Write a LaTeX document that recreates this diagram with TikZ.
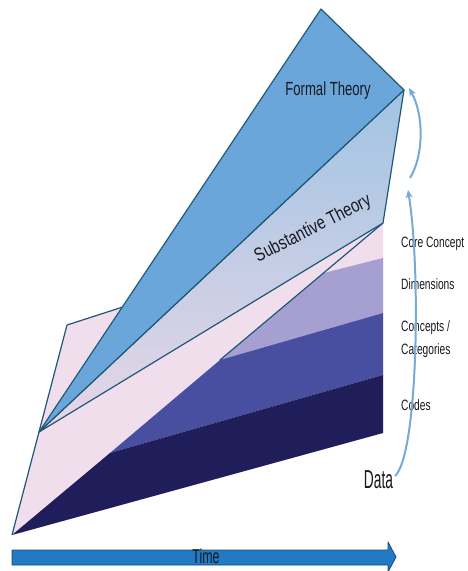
\documentclass[tikz,border=0pt]{standalone}
\usepackage{fontspec}
\usepackage{graphicx}
\setmainfont{Liberation Sans}
\usetikzlibrary{arrows.meta}
\definecolor{pinkc}{RGB}{240,222,236}
\definecolor{lavc}{RGB}{166,160,210}
\definecolor{medc}{RGB}{72,78,160}
\definecolor{navyc}{RGB}{32,30,90}
\definecolor{formc}{RGB}{106,166,218}
\definecolor{subtop}{RGB}{160,196,228}
\definecolor{subbot}{RGB}{232,214,230}
\definecolor{linec}{RGB}{30,88,118}
\definecolor{txtc}{RGB}{25,25,30}
\definecolor{arrc}{RGB}{118,170,216}
\definecolor{timec}{RGB}{34,122,196}
\definecolor{timeedge}{RGB}{20,72,130}
\begin{document}
\begin{tikzpicture}[x=1pt,y=-1pt,
  edge/.style={draw=linec, line width=1.2pt, line join=round},
  lbl/.style={anchor=west, inner sep=0pt, text=txtc, font=\fontsize{15}{18}\selectfont},
  upcurve/.style={draw=arrc, line width=2pt, -{Stealth[length=8pt,width=7pt]}}]
\useasboundingbox (0,0) rectangle (467,571);
\fill[white] (0,0) rectangle (467,571);
% key points
\coordinate (O) at (12,535);
\coordinate (A) at (67,325);
\coordinate (S) at (383,223);
\coordinate (P) at (39,432);
\coordinate (T) at (321,9);
\coordinate (R) at (404,90);
\coordinate (Q1) at (110,453);
\coordinate (Q2) at (220,360);
\coordinate (Q3) at (324,273);
\coordinate (C1) at (383,258);
\coordinate (C2) at (383,313);
\coordinate (C3) at (383,375);
\coordinate (C4) at (383,433);
% pink plane (core concept)
\fill[pinkc] (O) -- (A) -- (S) -- (C1) -- (C4) -- cycle;
% layers
\fill[lavc] (Q2) -- (Q3) -- (C1) -- (C2) -- cycle;
\fill[medc] (Q1) -- (Q2) -- (C2) -- (C3) -- cycle;
\fill[navyc] (O) -- (Q1) -- (C3) -- (C4) -- cycle;
% pink plane outline
\draw[edge] (O) -- (A) -- (S);
\draw[edge] (Q2) -- (S);
% substantive theory
\shade[top color=subtop, bottom color=subbot] (P) -- (R) -- (S) -- cycle;
\draw[edge] (P) -- (R) -- (S) -- cycle;
% formal theory
\fill[formc] (P) -- (T) -- (R) -- cycle;
\draw[edge] (P) -- (T) -- (R) -- cycle;
% texts in the planes
\node[text=txtc, inner sep=0pt] (formal) at (328,91)
  {\fontsize{19}{22}\selectfont\scalebox{0.69}[1]{Formal Theory}};
\node[text=txtc, inner sep=0pt, rotate=26.8] (subst) at (313,229)
  {\fontsize{19}{22}\selectfont\scalebox{0.78}[1]{Substantive Theory}};
% right labels
\node[lbl] (core) at (401,244) {\scalebox{0.68}[1]{Core Concept}};
\node[lbl] (dims) at (401,284) {\scalebox{0.68}[1]{Dimensions}};
\node[lbl] (conc) at (401,328) {\scalebox{0.68}[1]{Concepts /}};
\node[lbl] (cats) at (401,351) {\scalebox{0.68}[1]{Categories}};
\node[lbl] (codes) at (401,405) {\scalebox{0.68}[1]{Codes}};
\node[anchor=base, inner sep=0pt, text=txtc] (data) at (378.5,488)
  {\fontsize{26}{30}\selectfont\scalebox{0.53}[1]{Data}};
% curved arrows
\coordinate (a1s) at (395,476);
\coordinate (a1e) at (408,190);
\coordinate (a2s) at (410,178);
\coordinate (a2e) at (409,88);
\draw[upcurve] (a1s) .. controls (418,455) and (421,270) .. (a1e);
\draw[upcurve] (a2s) .. controls (424,155) and (424,115) .. (a2e);
% time arrow
\filldraw[fill=timec, draw=timeedge, line width=0.8pt, line join=round]
  (12,550) -- (388,550) -- (388,542) -- (396,557) -- (388,572) -- (388,565) -- (12,565) -- cycle;
\node[anchor=base, inner sep=0pt, text=txtc] (time) at (206,563)
  {\fontsize{20}{24}\selectfont\scalebox{0.62}[1]{Time}};
\end{tikzpicture}
\end{document}
